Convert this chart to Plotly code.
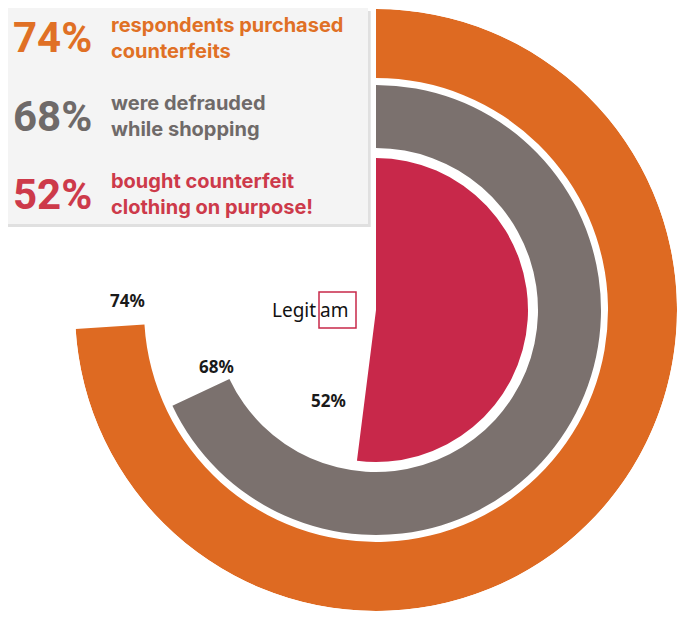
import plotly.graph_objects as go

W, H = 686, 621
values = [74, 68, 52]
names = ["respondents purchased<br>counterfeits", "were defrauded<br>while shopping", "bought counterfeit<br>clothing on purpose!"]
colors = ["#DE6A22", "#7B716E", "#C8284A"]
text_colors = ["#E07025", "#6F6A69", "#CD3A4A"]
inner = [232, 162, 0]
outer = [301, 225, 152]

OX, OY = -7, -8

def px(x, y):
    return (x + OX) / W, 1 - (y + OY) / H

fig = go.Figure()
for v, c, a, b in zip(values, colors, inner, outer):
    fig.add_trace(go.Barpolar(r=[b - a], base=[a], theta=[v * 3.6 / 2], width=[v * 3.6],
                              marker=dict(color=c, line=dict(width=0)), hoverinfo="skip"))

cx, cy, R = 375 + OX, 310 + OY, 301
fig.update_layout(
    width=W, height=H, margin=dict(l=0, r=0, t=0, b=0), showlegend=False,
    paper_bgcolor="white", plot_bgcolor="white",
    polar=dict(domain=dict(x=[(cx - R) / W, (cx + R) / W], y=[max(0, 1 - (cy + R) / H), 1 - (cy - R) / H]),
               bgcolor="white", hole=0,
               radialaxis=dict(range=[0, 301], visible=False),
               angularaxis=dict(direction="clockwise", rotation=90, visible=False)),
)

font = "Inter, Open Sans, sans-serif"
x0, y0 = px(4, 8); x1, y1 = px(367, 224)
fig.add_shape(type="rect", xref="paper", yref="paper", x0=x0+0.004, x1=x1+0.004, y0=y1-0.005, y1=y0-0.005,
              fillcolor="rgba(0,0,0,0.12)", line=dict(width=0), layer="above")
fig.add_shape(type="rect", xref="paper", yref="paper", x0=x0, x1=x1, y0=y1, y1=y0,
              fillcolor="#F4F4F4", line=dict(width=0), layer="above")
rows = [38, 116, 194]
for v, n, tc, yy in zip(values, names, text_colors, rows):
    ax, ay = px(10, yy)
    fig.add_annotation(x=ax, y=ay, xref="paper", yref="paper", text=f"<b>{v}%</b>", showarrow=False,
                       xanchor="left", yanchor="middle", font=dict(family="Roboto, sans-serif", size=42, color=tc))
    bx, by = px(108, yy)
    fig.add_annotation(x=bx, y=by, xref="paper", yref="paper", text=f"<b>{n}</b>", showarrow=False,
                       xanchor="left", yanchor="middle", align="left",
                       font=dict(family=font, size=20, color=tc))

for v, (lx, ly) in zip(values, [(107, 300), (196, 366), (327, 400)]):
    ax, ay = px(lx, ly)
    fig.add_annotation(x=ax, y=ay, xref="paper", yref="paper", text=f"<b>{v}%</b>", showarrow=False,
                       font=dict(family="Noto Sans, sans-serif", size=17, color="#1a1a1a"))

ax, ay = px(317, 310)
fig.add_annotation(x=ax, y=ay, xref="paper", yref="paper", text="Legit", showarrow=False, xanchor="right",
                   font=dict(family="Noto Sans, sans-serif", size=19, color="#111"))
ax, ay = px(317, 310)
fig.add_annotation(x=ax, y=ay, xref="paper", yref="paper", text="am", showarrow=False, xanchor="left",
                   font=dict(family="Noto Sans, sans-serif", size=19, color="#111"))
a0, b0 = px(318, 292); a1, b1 = px(355, 328)
fig.add_shape(type="rect", xref="paper", yref="paper", x0=a0, x1=a1, y0=b1, y1=b0,
              line=dict(color="#C8284A", width=1.5))

fig.write_html("out.html")
